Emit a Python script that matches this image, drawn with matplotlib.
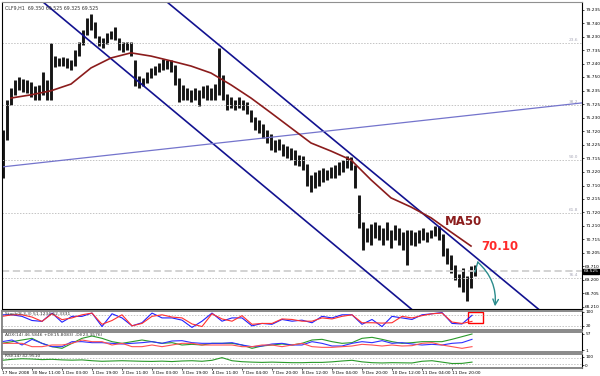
import numpy as np
import matplotlib
matplotlib.use("Agg")
import matplotlib.pyplot as plt
from matplotlib.patches import Rectangle

# hourly price samples (every ~2 bars), high / low
highs = [74.77, 75.89, 76.34, 76.63, 76.75, 76.67, 76.63, 76.56, 76.41, 76.45,
         76.93, 76.63, 78.01, 77.52, 77.45, 77.49, 77.45, 77.38, 77.75, 78.05,
         78.49, 78.94, 79.09, 78.79, 78.27, 78.20, 78.38, 78.45, 78.60, 78.20,
         78.05, 78.05, 78.05, 77.38, 76.78, 76.71, 76.93, 77.08, 77.15, 77.27,
         77.41, 77.38, 77.38, 77.19, 76.71, 76.45, 76.34, 76.26, 76.34, 76.26,
         76.41, 76.45, 76.34, 76.48, 77.82, 76.82, 76.11, 76.00, 75.89, 76.00,
         75.89, 75.82, 75.52, 75.26, 75.15, 75.00, 74.77, 74.63, 74.40, 74.44,
         74.26, 74.18, 74.11, 74.03, 73.85, 73.81, 73.51, 73.10, 73.21, 73.29,
         73.36, 73.29, 73.40, 73.47, 73.59, 73.66, 73.81, 73.77, 73.47, 72.36,
         71.36, 71.13, 71.28, 71.36, 71.24, 71.13, 71.36, 71.06, 71.24, 71.13,
         70.98, 71.06, 71.06, 70.98, 71.06, 71.13, 70.98, 71.06, 71.21, 71.21,
         70.91, 70.39, 70.13, 69.76, 69.42, 69.65, 69.35, 69.72, 69.76]
lows = [72.99, 74.40, 75.70, 76.08, 76.26, 76.19, 76.15, 76.00, 75.89, 75.89,
        76.08, 75.89, 75.89, 77.12, 77.15, 77.15, 77.08, 77.00, 77.15, 77.52,
        77.93, 78.31, 78.49, 78.20, 77.90, 77.82, 77.97, 78.16, 78.12, 77.75,
        77.67, 77.75, 77.52, 76.41, 76.34, 76.41, 76.52, 76.71, 76.82, 76.93,
        77.00, 77.04, 76.93, 76.45, 75.82, 75.89, 75.89, 75.82, 75.89, 75.67,
        75.96, 75.89, 75.89, 75.89, 76.08, 75.89, 75.52, 75.59, 75.52, 75.59,
        75.52, 75.37, 75.07, 74.77, 74.66, 74.48, 74.29, 74.03, 73.96, 74.03,
        73.81, 73.73, 73.66, 73.47, 73.44, 73.29, 72.69, 72.47, 72.62, 72.69,
        72.84, 72.92, 72.99, 72.99, 73.10, 73.21, 73.36, 73.29, 72.62, 71.13,
        70.31, 70.61, 70.50, 70.76, 70.69, 70.50, 70.69, 70.39, 70.69, 70.50,
        70.31, 69.76, 70.50, 70.46, 70.58, 70.69, 70.61, 70.76, 70.84, 70.69,
        70.09, 69.79, 69.46, 69.20, 68.94, 68.75, 68.42, 68.90, 69.35]

ma50 = [75.96, 76.08, 76.23, 76.48, 77.08, 77.45, 77.64, 77.52, 77.34, 77.15,
        76.89, 76.45, 75.96, 75.41, 74.85, 74.29, 73.99, 73.66, 72.92, 72.25,
        71.91, 71.51, 70.98, 70.46]

price_ticks = [79.235, 78.740, 78.230, 77.735, 77.240, 76.750, 76.235, 75.725,
               75.230, 74.720, 74.225, 73.715, 73.220, 72.710, 72.215, 71.720,
               71.210, 70.715, 70.205, 69.710, 69.200, 68.705, 68.210]
last_price = 69.525
fib_levels = [78.01, 75.70, 73.66, 71.69, 69.27]
fib_names = ["23.6", "38.2", "50.0", "61.8", "76.4"]

# trend lines: (sample, price) anchor points
upper_chan = [(41.0, 79.53), (133.5, 68.16)]
lower_chan = [(10.0, 79.53), (101.75, 68.16)]
slope_line = [(-0.25, 73.40), (144.75, 75.78)]

stoch_k = [83, 83, 74, 50, 45, 93, 40, 74, 74, 93, 15, 89, 65, 19, 37, 93,
           65, 65, 52, 10, 46, 93, 46, 65, 65, 19, 33, 28, 56, 46, 52, 37,
           74, 65, 83, 83, 28, 56, 15, 74, 65, 56, 83, 89, 96, 33, 30, 80]
stoch_d = [74, 83, 83, 70, 45, 89, 55, 65, 83, 93, 28, 50, 83, 19, 33, 74,
           83, 70, 65, 30, 15, 89, 59, 46, 78, 28, 33, 33, 59, 56, 46, 46,
           65, 59, 74, 83, 37, 37, 35, 37, 74, 65, 78, 89, 93, 41, 33, 45]
adx = [26, 31, 36, 41, 26, 16, 11, 26, 41, 48, 41, 31, 26, 31, 36, 31,
       26, 28, 21, 23, 21, 26, 26, 26, 21, 11, 18, 21, 24, 21, 26, 36,
       38, 31, 26, 28, 41, 44, 38, 31, 26, 28, 31, 31, 31, 38, 46, 54]
plus_di = [31, 36, 21, 38, 26, 16, 16, 31, 31, 28, 28, 26, 24, 26, 28, 31,
           26, 33, 34, 28, 26, 26, 26, 28, 21, 16, 18, 24, 26, 21, 21, 31,
           26, 18, 18, 26, 31, 28, 34, 26, 28, 24, 21, 23, 21, 26, 28, 38]
minus_di = [26, 26, 26, 16, 16, 21, 21, 26, 36, 31, 31, 21, 26, 16, 16, 21,
            16, 21, 26, 26, 21, 21, 21, 21, 16, 16, 21, 21, 16, 21, 26, 16,
            14, 14, 16, 18, 23, 21, 18, 21, 18, 19, 26, 28, 21, 16, 11, 16]
rsi = [55, 62, 66, 64, 60, 62, 58, 56, 58, 52, 48, 50, 52, 50, 48, 47,
       49, 46, 50, 52, 48, 55, 74, 52, 45, 42, 40, 42, 40, 38, 38, 40,
       40, 44, 50, 55, 44, 38, 36, 38, 37, 36, 48, 52, 42, 32, 33, 42]

date_labels = ["17 Nov 2008", "30 Nov 11:00", "1 Dec 03:00", "1 Dec 19:00",
               "2 Dec 11:00", "3 Dec 03:00", "3 Dec 19:00", "4 Dec 11:00",
               "7 Dec 04:00", "7 Dec 20:00", "8 Dec 12:00", "9 Dec 04:00",
               "9 Dec 20:00", "10 Dec 12:00", "11 Dec 04:00", "11 Dec 20:00"]

W, H = 600, 376
XLIM = (-0.25, 144.75)
LBL = 3.1


def box(x0, y0, x1, y1):
    return [x0 / W, 1 - y1 / H, (x1 - x0) / W, (y1 - y0) / H]


def style_panel(a, edge="#808080"):
    a.set_xlim(*XLIM)
    a.yaxis.tick_right()
    a.tick_params(axis="y", labelsize=LBL, length=1.5, width=0.5, pad=0.8)
    a.tick_params(axis="x", bottom=False, labelbottom=False)
    for s in a.spines.values():
        s.set_color(edge)
        s.set_linewidth(1.3)
    a.spines["right"].set_color("black")
    a.spines["right"].set_linewidth(0.8)


fig = plt.figure(figsize=(6, 3.76), dpi=100)

# main price panel
ax = fig.add_axes(box(2, 2, 582, 309))
style_panel(ax, edge="black")
for s in ["left", "bottom", "top"]:
    ax.spines[s].set_linewidth(0.8)
ax.spines["top"].set_color("#909090")
ax.set_ylim(68.12, 79.53)

idx = np.arange(len(highs))
ax.vlines(idx, lows, highs, color="#151515", lw=2.1)

grid_kw = dict(color="#c4c4c4", lw=0.7, ls=(0, (1.5, 1.5)))
for lv, nm in zip(fib_levels, fib_names):
    ax.axhline(lv, **grid_kw)
    ax.text(143.8, lv + 0.04, nm, fontsize=3.1, color="#a8a8b8",
            ha="right", va="bottom")
ax.axhline(last_price, color="#cfcfcf", lw=1.3, ls=(0, (4, 2)))

ax.axline(*upper_chan, color="#121290", lw=1.2)
ax.axline(*lower_chan, color="#121290", lw=1.2)
ax.axline(*slope_line, color="#7474cc", lw=0.9)

ma_idx = np.arange(2, 2 + 5 * len(ma50), 5)
ax.plot(ma_idx, ma50, color="#8b1c1c", lw=1.2)

ax.set_yticks(price_ticks)
ax.set_yticklabels([f"{v:.3f}" for v in price_ticks])
ax.text(1.003, last_price, f"{last_price:.3f}", transform=ax.get_yaxis_transform(),
        fontsize=LBL, color="white", va="center", ha="left",
        bbox=dict(boxstyle="square,pad=0.12", fc="black", ec="black"))

ax.text(0.4, 79.30, "CLF9,H1  69.350 69.525 69.325 69.525", fontsize=3.4,
        color="#333333", va="center")

ax.text(115, 71.36, "MA50", fontsize=8.5, fontweight="bold", color="#8b1c1c",
        ha="center", va="center")
ax.text(124.3, 70.43, "70.10", fontsize=8.5, fontweight="bold", color="#ff2a2a",
        ha="center", va="center")

ax.plot([118.0, 118.7], [69.50, 69.86], color="#2b8c8c", lw=1.0)
ax.annotate("", xy=(123.0, 68.22), xytext=(118.7, 69.86),
            arrowprops=dict(arrowstyle="->", color="#2b8c8c", lw=1.0,
                            connectionstyle="arc3,rad=-0.25",
                            shrinkA=0, shrinkB=0))

osc_x = -0.25 + 2.5 * np.arange(len(stoch_k))

# stochastic
ax1 = fig.add_axes(box(2, 311, 582, 330))
style_panel(ax1)
ax1.set_ylim(-5, 105)
for lv in (80, 20):
    ax1.axhline(lv, **grid_kw)
ax1.plot(osc_x, stoch_k, color="#2020ff", lw=0.8)
ax1.plot(osc_x, stoch_d, color="#ff3030", lw=0.8)
ax1.set_yticks([100, 20])
ax1.text(0.4, 97, "Stoch(8,3,3) 51.1234 62.3331", fontsize=3.2, color="#333333",
         va="top")
ax1.add_patch(Rectangle((116.25, 35), 3.75, 64, fill=False, ec="#ff0000",
                        lw=1.0, clip_on=False))

# ADX
ax2 = fig.add_axes(box(2, 332, 582, 352))
style_panel(ax2)
ax2.set_ylim(0, 60)
ax2.plot(osc_x, adx, color="#2a9a2a", lw=0.8)
ax2.plot(osc_x, plus_di, color="#3030ff", lw=0.8)
ax2.plot(osc_x, minus_di, color="#ff5050", lw=0.8)
ax2.set_yticks([55, 6])
ax2.set_yticklabels(["57", "1"])
ax2.text(0.4, 58, "ADX(14) 46.5846 +DI(15.8083) -DI(23.3576)", fontsize=3.2,
         color="#333333", va="top")

# RSI
ax3 = fig.add_axes(box(2, 354, 582, 368))
style_panel(ax3)
ax3.set_ylim(0, 100)
for lv in (70, 30):
    ax3.axhline(lv, **grid_kw)
ax3.plot(osc_x, rsi, color="#2a9a2a", lw=0.8)
ax3.set_yticks([80, 20])
ax3.set_yticklabels(["100", "0"])
ax3.text(0.4, 97, "RSI(14) 42.9510", fontsize=3.2, color="#333333", va="top")

ax3.tick_params(axis="x", bottom=True, labelbottom=True, length=1.5,
                width=0.5, pad=1, labelsize=3.1)
ax3.set_xticks(-0.25 + 7.5 * np.arange(len(date_labels)))
ax3.set_xticklabels(date_labels, ha="left")

fig.savefig("out.png", dpi=100, facecolor="white")
